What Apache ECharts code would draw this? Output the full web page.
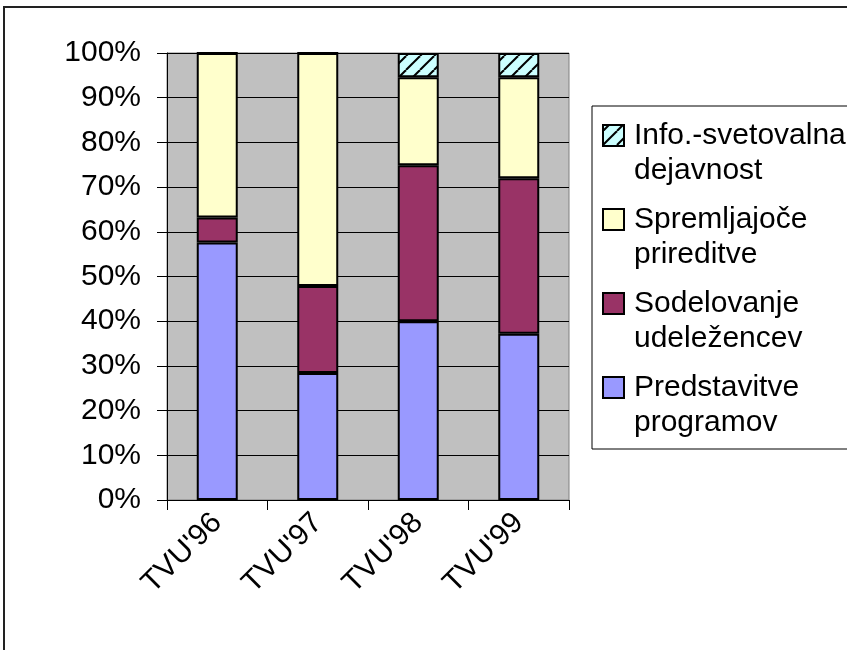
<!DOCTYPE html>
<html>
<head>
<meta charset="utf-8">
<script src="https://cdn.jsdelivr.net/npm/echarts@6/dist/echarts.min.js"></script>
<style>
  html, body { margin: 0; padding: 0; background: #fff; }
  #chart { width: 847px; height: 650px; }
</style>
</head>
<body>
<div id="chart"></div>
<script>
// podatki
var categories = ["TVU'96", "TVU'97", "TVU'98", "TVU'99"];
var predstavitve = [57.6, 28.4, 40.0, 37.2];
var sodelovanje = [5.6, 19.5, 34.9, 34.8];
var spremljajoce = [36.8, 52.1, 19.7, 22.6];
var info = [0, 0, 5.4, 5.4];
var seriesNames = [
  'Predstavitve\nprogramov',
  'Sodelovanje\nudeležencev',
  'Spremljajoče\nprireditve',
  'Info.-svetovalna\ndejavnost'
];

var FONT = '"Liberation Sans", Arial, sans-serif';

// šrafura za info. dejavnost
function hatch() {
  var c = document.createElement('canvas');
  c.width = 14; c.height = 14;
  var ctx = c.getContext('2d');
  ctx.fillStyle = '#ccffff';
  ctx.fillRect(0, 0, 14, 14);
  ctx.strokeStyle = '#000';
  ctx.lineWidth = 2;
  [-14, 0, 14].forEach(function (k) {
    ctx.beginPath();
    ctx.moveTo(k, 14);
    ctx.lineTo(k + 14, 0);
    ctx.stroke();
  });
  return c;
}

var colors = ['#9999ff', '#993366', '#ffffcc', { image: hatch(), repeat: 'repeat' }];
var values = [predstavitve, sodelovanje, spremljajoce, info];

// ikona legende: kvadrat poravnan s prvo vrstico
var legendIcon = 'path://M0,0M32,72M0,8h21v21h-21z';

var myChart = echarts.init(document.getElementById('chart'));

var option = {
  animation: false,
  graphic: [
    {
      type: 'rect',
      z: -10,
      shape: { x: 4, y: 7, width: 900, height: 700 },
      style: { fill: 'none', stroke: '#222', lineWidth: 2 }
    }
  ],
  legend: {
    orient: 'vertical',
    left: 592,
    top: 106,
    padding: [10, 80, 7, 10],
    borderColor: '#000',
    borderWidth: 1,
    itemWidth: 32,
    itemHeight: 72,
    itemGap: 10,
    icon: legendIcon,
    data: seriesNames.slice().reverse(),
    textStyle: { fontSize: 30, lineHeight: 35, fontFamily: FONT, color: '#000', padding: [0, 0, 0, -6] }
  },
  grid: {
    left: 167,
    top: 53,
    width: 402,
    height: 447,
    show: true,
    backgroundColor: '#c0c0c0',
    borderColor: '#808080',
    borderWidth: 1
  },
  xAxis: {
    type: 'category',
    data: categories,
    axisLine: { lineStyle: { color: '#000', width: 1 } },
    axisTick: { show: true, length: 10, lineStyle: { color: '#000' } },
    axisLabel: { rotate: 45, margin: 18, fontSize: 30, fontFamily: FONT, color: '#000' }
  },
  yAxis: {
    type: 'value',
    min: 0,
    max: 100,
    interval: 10,
    axisLine: { show: true, lineStyle: { color: '#000', width: 1 } },
    axisTick: { show: true, length: 10, lineStyle: { color: '#000' } },
    axisLabel: { formatter: '{value}%', margin: 26, fontSize: 30, fontFamily: FONT, color: '#000' },
    splitLine: { show: true, lineStyle: { color: '#000', width: 1 } }
  },
  series: seriesNames.map(function (name, i) {
    return {
      name: name,
      type: 'bar',
      stack: 'total',
      barWidth: 41,
      data: values[i],
      itemStyle: { color: colors[i], borderColor: '#000', borderWidth: 2 }
    };
  })
};

myChart.setOption(option);
</script>
</body>
</html>
